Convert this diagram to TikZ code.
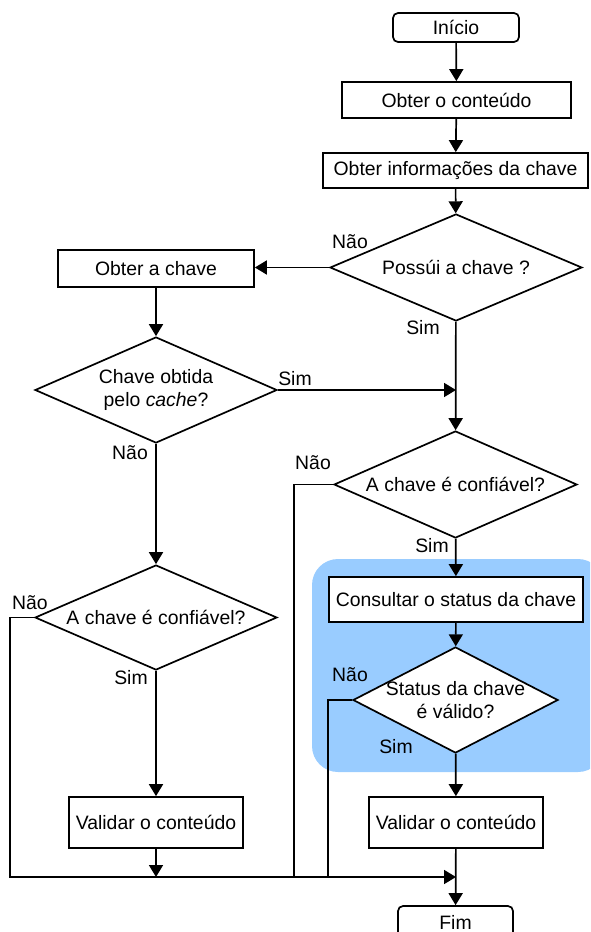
\documentclass[tikz,border=0pt]{standalone}
\usepackage{fontspec}
\setmainfont{Liberation Sans}
\usetikzlibrary{shapes.geometric,arrows.meta}
\definecolor{groupblue}{HTML}{99CCFF}
\begin{document}
\begin{tikzpicture}[x=1pt,y=-1pt,
  font=\fontsize{19.4}{22.5}\selectfont,
  line width=1.7pt,
  proc/.style={draw, rectangle, inner sep=0pt, align=center},
  term/.style={draw, rectangle, rounded corners=5pt, inner sep=0pt},
  dec/.style={draw, diamond, inner sep=0pt},
  lbl/.style={inner sep=0pt},
  arr/.style={-{Triangle[width=14pt,length=12pt]}}
]
\useasboundingbox (0,0) rectangle (590,932);
\clip (0,0) rectangle (590,932);

% highlighted group behind the status check
\fill[groupblue, rounded corners=26pt] (312,559) rectangle (604,772);

% main column
\node[term, minimum width=126pt, minimum height=29pt] (inicio) at (456,27.5) {Início};
\node[proc, minimum width=229pt, minimum height=36pt] (conteudo) at (456.5,100) {Obter o conteúdo};
\node[proc, minimum width=265pt, minimum height=35pt] (info) at (455.5,170.5) {Obter informações da chave};
\node[dec, minimum width=252pt, minimum height=107pt,
      label={center:Possúi a chave ?}] (possui) at (456,267.5) {};
\node[dec, minimum width=243pt, minimum height=107pt,
      label={center:A chave é confiável?}] (confR) at (455.5,484.5) {};
\node[proc, fill=white, minimum width=254pt, minimum height=45pt] (consultar) at (456,599.5) {Consultar o status da chave};
\node[dec, fill=white, minimum width=205pt, minimum height=106pt,
      label={[align=center]center:Status da chave\\é válido?}] (status) at (455.5,700) {};
\node[proc, minimum width=174pt, minimum height=51pt] (validarR) at (456,822.5) {Validar o conteúdo};
\node[term, minimum width=115pt, minimum height=32pt] (fim) at (455.5,922) {Fim};

% left column
\node[proc, minimum width=196pt, minimum height=37pt] (obter) at (156,268.5) {Obter a chave};
\node[dec, minimum width=242pt, minimum height=106pt,
      label={[align=center]center:Chave obtida\\pelo \textit{cache}?}] (obtida) at (156,390) {};
\node[dec, minimum width=242pt, minimum height=105pt,
      label={center:A chave é confiável?}] (confL) at (156,617.5) {};
\node[proc, minimum width=174pt, minimum height=51pt] (validarL) at (156,822.5) {Validar o conteúdo};

% points on the collecting line
\coordinate (busL) at (10,877);
\coordinate (tapA) at (294,877);
\coordinate (tapB) at (328,877);
\coordinate (bus) at (456,877);

% connectors
\draw[arr] (inicio) -- (conteudo);
\draw[arr] (conteudo) -- (info);
\draw[arr] (info) -- (possui);
\draw[arr] (possui.west) -- (possui.west -| obter.east);
\draw[arr] (obter) -- (obtida);
\draw[arr] (possui) -- (confR);
\draw[arr] (obtida.east) -- (obtida.east -| possui.south);
\draw[arr] (obtida) -- (confL);
\draw[arr] (confL) -- (validarL);
\draw[arr] (confR) -- (consultar);
\draw[arr] (consultar) -- (status);
\draw[arr] (status) -- (validarR);
\draw[arr] (validarR) -- (fim);
\draw[arr] (confL.west) -| (busL) -- (bus);
\draw (confR.west) -| (tapA);
\draw (status.west) -| (tapB);
\draw[arr] (validarL) -- (validarL.south |- bus);

% branch labels
\node[lbl] (n1) at (350,242) {Não};
\node[lbl] (s1) at (423,328) {Sim};
\node[lbl] (s2) at (295,379) {Sim};
\node[lbl] (n2) at (130,453) {Não};
\node[lbl] (n3) at (313,463) {Não};
\node[lbl] (s3) at (432,546) {Sim};
\node[lbl] (n4) at (30,603) {Não};
\node[lbl] (n5) at (350,675) {Não};
\node[lbl] (s4) at (131,678) {Sim};
\node[lbl] (s5) at (396,747) {Sim};
\end{tikzpicture}
\end{document}
